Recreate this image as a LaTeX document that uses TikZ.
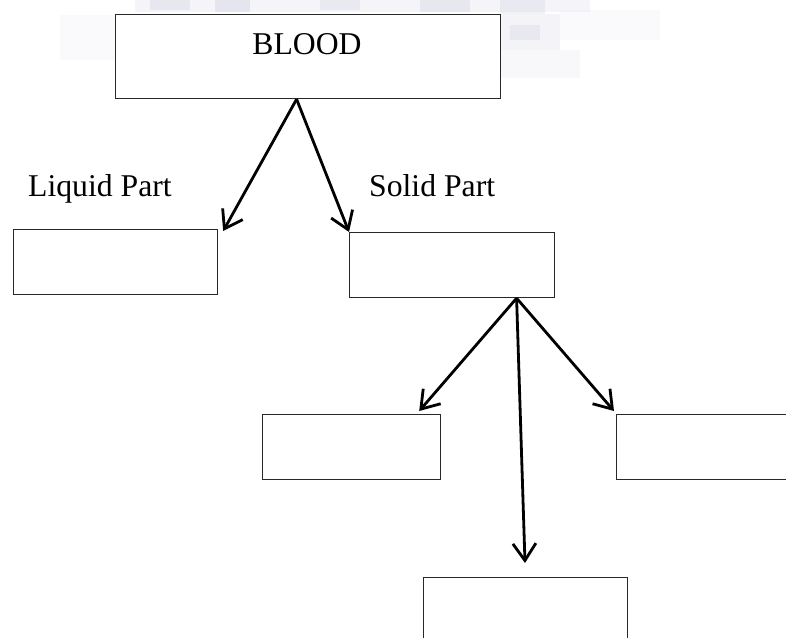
\documentclass[tikz,border=0pt]{standalone}
\usepackage{fontspec}
\setmainfont{Liberation Serif}
\usetikzlibrary{arrows.meta}
\definecolor{wm}{RGB}{200,200,222}
\definecolor{boxline}{RGB}{40,40,40}
\tikzset{
  box/.style={draw=boxline, line width=1.2pt, fill=white, inner sep=0pt, minimum width=#1, anchor=north west},
  lbl/.style={inner sep=0pt, anchor=base, font=\fontsize{31.7}{38}\selectfont},
  arr/.style={line width=2.8pt, -{Straight Barb[length=17pt,width=23pt,line width=2.8pt]}}
}
\begin{document}
\begin{tikzpicture}[x=1pt,y=-1pt]
\useasboundingbox (0,0) rectangle (786,637);
\fill[white] (0,0) rectangle (786,637);
% faint watermark at the top
\begin{scope}
\fill[wm,opacity=0.18] (135,0) rectangle (590,12);
\fill[wm,opacity=0.3] (150,0) rectangle (190,10);
\fill[wm,opacity=0.35] (215,0) rectangle (250,12);
\fill[wm,opacity=0.25] (320,0) rectangle (360,10);
\fill[wm,opacity=0.3] (420,0) rectangle (470,12);
\fill[wm,opacity=0.25] (500,0) rectangle (545,14);
\fill[wm,opacity=0.2] (500,14) rectangle (560,50);
\fill[wm,opacity=0.12] (500,50) rectangle (580,78);
\fill[wm,opacity=0.25] (510,25) rectangle (540,40);
\fill[wm,opacity=0.08] (60,15) rectangle (115,60);
\fill[wm,opacity=0.08] (560,10) rectangle (660,40);
\end{scope}
% boxes
\node[box=385, minimum height=84] (blood) at (115,14) {};
\node[box=204, minimum height=65] (liquid) at (13,229) {};
\node[box=205, minimum height=65] (solid) at (349,232) {};
\node[box=178, minimum height=65] (cellA) at (262,414) {};
\node[box=190, minimum height=65] (cellB) at (616,414) {};
\node[box=204, minimum height=80] (cellC) at (423,577) {};
% texts
\node[lbl] (bloodtxt) at (307,54) {BLOOD};
\node[lbl, anchor=base west] (liqtxt) at (28,196) {Liquid Part};
\node[lbl, anchor=base west] (soltxt) at (369,196) {Solid Part};
% connection points
\coordinate (top) at ([xshift=-11.5pt]blood.south);
\coordinate (mid) at ([xshift=64.5pt]solid.south);
% arrows
\draw[arr] (top) -- ([xshift=5pt,yshift=-2pt]liquid.north east);
\draw[arr] (top) -- (solid.north west);
\draw[arr] (mid) -- ([xshift=-22pt,yshift=3pt]cellA.north east);
\draw[arr] (mid) -- ([xshift=-2pt,yshift=3pt]cellB.north west);
\draw[arr] (mid) -- ([xshift=102pt,yshift=14pt]cellC.north west);
\end{tikzpicture}
\end{document}
